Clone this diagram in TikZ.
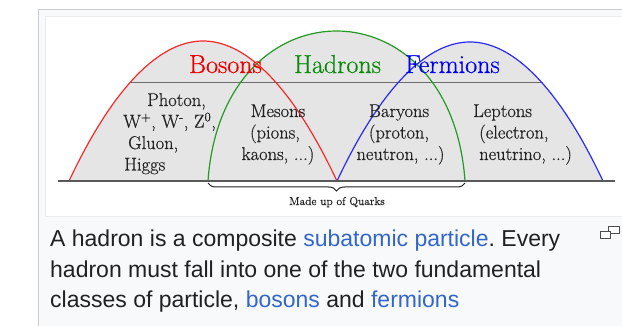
\documentclass[tikz,border=0pt]{standalone}
\usepackage{fontspec}
\setmainfont{Latin Modern Roman}[FakeBold=0.6]
\newfontfamily\capfont{Liberation Sans}
\usetikzlibrary{decorations.pathreplacing}
\definecolor{fillgray}{HTML}{E5E5E5}
\definecolor{thumbbg}{HTML}{F8F9FA}
\definecolor{thumbborder}{HTML}{C8CCD1}
\definecolor{innerborder}{HTML}{EAECF0}
\definecolor{redarc}{HTML}{F42A2A}
\definecolor{greenarc}{HTML}{249A24}
\definecolor{bluearc}{HTML}{2A2AF4}
\definecolor{redtxt}{HTML}{EE0000}
\definecolor{greentxt}{HTML}{0A8A0A}
\definecolor{bluetxt}{HTML}{0000EE}
\definecolor{txt}{HTML}{222222}
\definecolor{captxt}{HTML}{202122}
\definecolor{link}{HTML}{3366CC}
\tikzset{
  arcline/.style={line width=1.2pt},
  headtext/.style={inner sep=0pt, font=\fontsize{26}{28}\selectfont},
  lbl/.style={inner sep=0pt, text=txt, font=\fontsize{18.5}{21.5}\selectfont},
  smalltext/.style={inner sep=0pt, text=txt, font=\fontsize{11.5}{13}\selectfont},
  captext/.style={inner sep=0pt, text=captxt, align=left, font=\capfont\frenchspacing\fontsize{23}{30}\selectfont},
}
\begin{document}
\begin{tikzpicture}[x=1pt,y=-1pt]
\useasboundingbox (0,0) rectangle (622,326);
\fill[white] (0,0) rectangle (622,326);
% thumb frame
\filldraw[fill=thumbbg, draw=thumbborder, line width=1pt] (38,10) rectangle (630,340);
\filldraw[fill=white, draw=innerborder, line width=1pt] (45,17) rectangle (630,217);
% gray regions
\fill[fillgray] (69,181) parabola bend (203,41) (337,181) -- cycle;
\fill[fillgray] (208,181) .. controls (222,-19) and (451,-19) .. (465,181) -- cycle;
\fill[fillgray] (337,181) parabola bend (470,42) (603,181) -- cycle;
% divider line
\coordinate (dl) at (130,83);
\coordinate (dr) at (543,83);
\draw[gray!85!black, line width=1pt] (dl) -- (dr);
% arcs
\draw[arcline, redarc] (69,181) parabola bend (203,41) (337,181);
\draw[arcline, greenarc] (208,181) .. controls (222,-19) and (451,-19) .. (465,181);
\draw[arcline, bluearc] (337,181) parabola bend (470,42) (603,181);
% baseline
\coordinate (bl) at (58,181);
\coordinate (br) at (615,181);
\draw[black!65, line width=2pt] (bl) -- (br);
% brace
\coordinate (b1) at (208,183);
\coordinate (b2) at (465,183);
\draw[txt, line width=1pt, decorate, decoration={brace, mirror, amplitude=8pt}] (b1) -- (b2);
\node[smalltext, anchor=base] (quarks) at (337,205) {Made up of Quarks};
% headings
\node[headtext, text=redtxt, anchor=base] (bosons) at (225.5,73) {Bosons};
\node[headtext, text=greentxt, anchor=base] (hadrons) at (337.5,73) {Hadrons};
\node[headtext, text=bluetxt, anchor=base] (fermions) at (452.5,73) {Fermions};
% left group
\node[lbl, anchor=base west] (photon) at (147,106) {Photon,};
\node[lbl, anchor=base west] (wz) at (123,127.5) {W\textsuperscript{+}, W\textsuperscript{-}, Z\textsuperscript{0},};
\node[lbl, anchor=base west] (gluon) at (128,149) {Gluon,};
\node[lbl, anchor=base west] (higgs) at (124,170.5) {Higgs};
% mesons
\node[lbl, anchor=base] (mes1) at (278,117) {Mesons};
\node[lbl, anchor=base] (mes2) at (275,138.5) {(pions,};
\node[lbl, anchor=base] (mes3) at (278,160) {kaons, ...)};
% baryons
\node[lbl, anchor=base] (bar1) at (399,117) {Baryons};
\node[lbl, anchor=base] (bar2) at (399,138.5) {(proton,};
\node[lbl, anchor=base] (bar3) at (400.5,160) {neutron, ...)};
% leptons
\node[lbl, anchor=base west] (lep1) at (473,117) {Leptons};
\node[lbl, anchor=base west] (lep2) at (479,138.5) {(electron,};
\node[lbl, anchor=base west] (lep3) at (479,160) {neutrino, ...)};
% caption
\node[captext, anchor=base west] (cap1) at (50,247) {A hadron is a composite {\color{link}subatomic particle}. Every};
\node[captext, anchor=base west] (cap2) at (50,277) {hadron must fall into one of the two fundamental};
\node[captext, anchor=base west] (cap3) at (50,307) {classes of particle, {\color{link}bosons} and {\color{link}fermions}};
% magnify icon
\filldraw[fill=white, draw=black!70, line width=1pt] (608,227) rectangle (619,234);
\filldraw[fill=white, draw=black!70, line width=1pt] (600,232) rectangle (610,239);
\end{tikzpicture}
\end{document}
